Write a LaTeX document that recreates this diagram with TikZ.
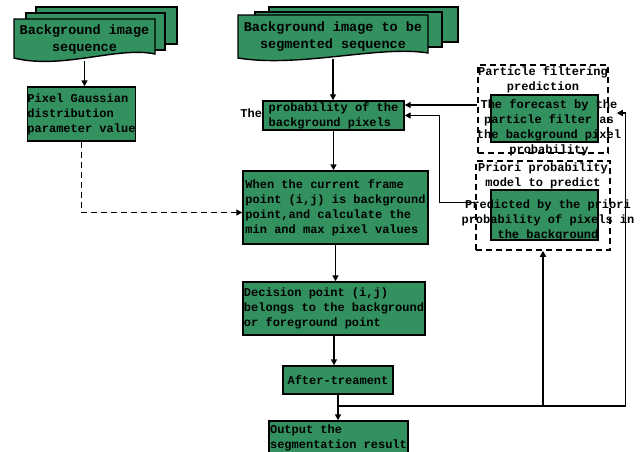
\documentclass[tikz,border=0pt]{standalone}
\usepackage{fontspec}
\newfontfamily\boxfont{Liberation Mono}
\usetikzlibrary{arrows.meta,calc}
\definecolor{boxgreen}{RGB}{50,145,95}
\tikzset{
  sheet/.style={draw,line width=1.4pt,fill=boxgreen},
  doctext/.style={inner sep=0pt,align=center,font=\boxfont\bfseries\fontsize{13.5}{17}\selectfont},
  greenbox/.style={draw,line width=1.4pt,fill=boxgreen,inner sep=0pt,align=left,font=\boxfont\bfseries\fontsize{12}{15}\selectfont},
  plaintext/.style={inner sep=1pt,align=center,font=\boxfont\bfseries\fontsize{12}{15}\selectfont},
  dashbox/.style={draw,line width=1.5pt,dash pattern=on 6pt off 4pt,inner sep=0pt},
  arrow/.style={line width=1.4pt,-{Triangle[length=6pt,width=6pt]}},
  dasharrow/.style={arrow,dash pattern=on 6pt off 4pt}
}
\begin{document}
\begin{tikzpicture}[x=1pt,y=-1pt]
\clip (0,0) rectangle (641,451);

% left image stack
\draw[sheet] (36,7) rectangle (177,44);
\draw[sheet] (26,13) rectangle (165,50);
\draw[sheet] (14,19) -- (155,19) -- (155,54) .. controls (118,46) and (62,70) .. (14,58) -- cycle;
\node[doctext,minimum width=141,minimum height=42] (seq1) at (84.5,40) {Background image\\sequence};

% middle image stack
\draw[sheet] (269,7) rectangle (458,42);
\draw[sheet] (255,12) rectangle (442,47);
\draw[sheet] (238,15) -- (428,15) -- (428,53) .. controls (380,45) and (300,68) .. (238,58) -- cycle;
\node[doctext,minimum width=190,minimum height=44] (seq2) at (333,37) {Background image to be\\segmented sequence};

% main flow
\node[greenbox,minimum width=107,minimum height=54] (pixel) at (81.5,114) {Pixel Gaussian\\distribution\\parameter value};
\node[greenbox,minimum width=141,minimum height=29] (prob) at (333.5,115.5) {probability of the\\background pixels};
\node[plaintext,inner sep=0pt,anchor=north east] (the) at ([yshift=7pt]prob.west) {The};
\node[greenbox,minimum width=185,minimum height=73] (when) at (335.5,207.5) {When the current frame\\point (i,j) is background\\point,and calculate the\\min and max pixel values};
\node[greenbox,minimum width=182,minimum height=53] (decision) at (334,308.5) {Decision point (i,j)\\belongs to the background\\or foreground point};
\node[greenbox,minimum width=110,minimum height=28] (after) at (338,380) {After-treament};
\node[greenbox,minimum width=139,minimum height=42] (output) at (338.5,442) {};
\node[plaintext,inner sep=0pt,align=left] (outtext) at (338.5,437.5) {Output the\\segmentation result};

% right prediction models
\node[dashbox,minimum width=130,minimum height=88] (pfbox) at (543,109) {};
\node[plaintext,anchor=north] (pftitle) at ([yshift=-1pt]pfbox.north) {Particle filtering\\prediction};
\node[greenbox,minimum width=107,minimum height=47] (fcbox) at (544.5,118.5) {};
\node[plaintext,inner sep=0pt] (fctext) at (549,127.5) {The forecast by the\\particle filter as\\the background pixel\\probability};

\node[dashbox,minimum width=134,minimum height=89] (pribox) at (543,205.5) {};
\node[plaintext,anchor=north] (prititle) at ([yshift=-1pt]pribox.north) {Priori probability\\model to predict};
\node[greenbox,minimum width=107,minimum height=50] (prigreen) at (544.5,215) {};
\node[plaintext,inner sep=0pt] (pritext) at (548,220) {Predicted by the priori\\probability of pixels in\\the background};

% connectors
\coordinate (fork) at ($(after.south)!0.44!(output.north)$);

\draw[arrow] (seq1.south) -- (seq1.south |- pixel.north);
\draw[dasharrow] (pixel.south) |- ([yshift=-5pt]when.west);
\draw[arrow] (seq2.south) -- (seq2.south |- prob.north);
\draw[arrow] (prob.south) -- (prob.south |- when.north);
\draw[arrow] (when.south) -- (when.south |- decision.north);
\draw[arrow] (decision.south) -- (decision.south |- after.north);
\draw[arrow] (after.south) -- (after.south |- output.north);
\draw[arrow] ([yshift=4pt]pfbox.west) -- ([yshift=4pt]pfbox.west -| prob.east);
\draw[arrow] ([yshift=3pt]pribox.west) -- ++(-36,0) |- (prob.east);
\draw[arrow] (fork) -| (pribox.south);
\draw[arrow] (fork) -| ([xshift=17pt,yshift=-4pt]pfbox.east) -- ([xshift=8pt,yshift=-4pt]pfbox.east);

\end{tikzpicture}
\end{document}
